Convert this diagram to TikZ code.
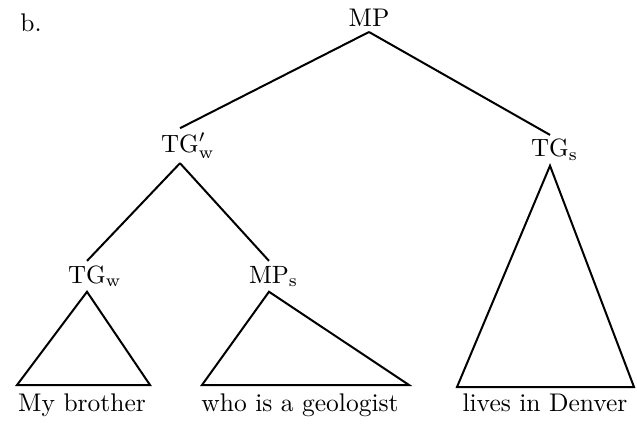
\documentclass[tikz,border=0pt]{standalone}
\usepackage{tikz}
\usetikzlibrary{positioning}
\begin{document}
\begin{tikzpicture}[
  x=0.4pt, y=-0.4pt, font=\fontsize{10.2}{12}\selectfont,
  cat/.style={inner sep=2pt, outer sep=0pt, anchor=base},
  leaf/.style={inner sep=0pt, anchor=base},
  edge/.style={line width=0.8pt, line join=miter},
]
  \useasboundingbox (0,0) rectangle (637,425);
  \node[anchor=base west, inner sep=0pt] (lbl) at (20,32) {b.};
  % categories
  \node[cat] (mp)   at (369,27)  {MP};
  \node[cat] (tgwp) at (180,152) {$\mathrm{TG}\rlap{$'_{\mathrm{w}}$}$};
  \node[cat] (tgs)  at (550,157) {$\mathrm{TG}\rlap{$_{\mathrm{s}}$}$};
  \node[cat] (tgw)  at (87,283)  {$\mathrm{TG}\rlap{$_{\mathrm{w}}$}$};
  \node[cat] (mps)  at (269,283) {$\mathrm{MP}\rlap{$_{\mathrm{s}}$}$};
  % leaves
  \node[leaf] (w1) at (82,411)  {My brother};
  \node[leaf] (w2) at (300,411) {who is a geologist};
  \node[leaf] (w3) at (545,411) {lives in Denver};
  % branches
  \draw[edge] (mp.south) -- (tgwp.north);
  \draw[edge] (mp.south) -- (tgs.north);
  \draw[edge] (tgwp.south) -- (tgw.north);
  \draw[edge] (tgwp.south) -- (mps.north);
  % triangles
  \coordinate (t1l) at (17,385);  \coordinate (t1r) at (150,385);
  \coordinate (t2l) at (202,385); \coordinate (t2r) at (409,385);
  \coordinate (t3l) at (457,387); \coordinate (t3r) at (634,387);
  \draw[edge] (tgw.south) -- (t1l) -- (t1r) -- cycle;
  \draw[edge] (mps.south) -- (t2l) -- (t2r) -- cycle;
  \draw[edge] (tgs.south) -- (t3l) -- (t3r) -- cycle;
\end{tikzpicture}
\end{document}
